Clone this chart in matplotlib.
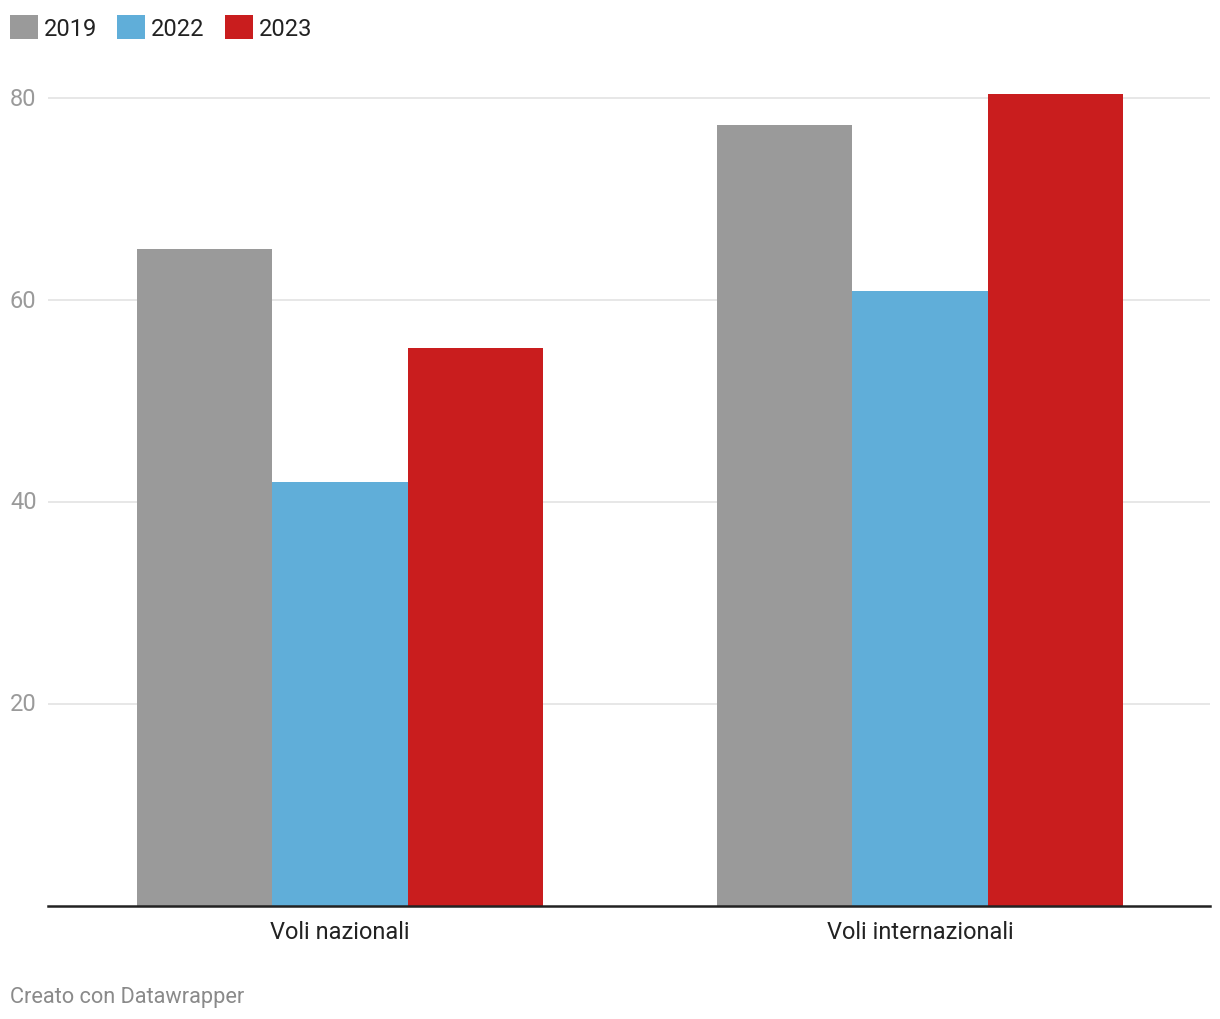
import matplotlib.pyplot as plt
import numpy as np
from matplotlib.patches import Patch

plt.rcParams["font.family"] = ["Roboto", "DejaVu Sans"]

categories = ["Voli nazionali", "Voli internazionali"]
years = ["2019", "2022", "2023"]
values_2019 = [65.1, 77.4]
values_2022 = [42.0, 60.9]
values_2023 = [55.3, 80.4]
yticks = [20, 40, 60, 80]

colors = ["#9a9a9a", "#60aed9", "#c91d1e"]

fig = plt.figure(figsize=(12.2, 10.2), dpi=100)
# axes: x 48..1210 px, y 906 (zero) .. 86 px
ax = fig.add_axes([48 / 1220, 1 - 906.5 / 1020, (1210 - 48) / 1220, (906.5 - 86.5) / 1020])

x = np.arange(len(categories))
w = 0.2336
for i, (vals, c) in enumerate(zip([values_2019, values_2022, values_2023], colors)):
    ax.bar(x + (i - 1) * w, vals, width=w, color=c, linewidth=0, zorder=2)

ax.set_xlim(-0.503, 1.5)
ax.set_ylim(0, 820 / 10.09)

ax.set_yticks(yticks)
ax.set_yticklabels([str(t) for t in yticks], fontsize=17, color="#9a9a9a",
                   ha="left", va="center")
ax.tick_params(axis="y", length=0, pad=27.4)
ax.yaxis.grid(True, color="#e3e3e3", linewidth=1.2, zorder=0)

ax.set_xticks(x)
ax.set_xticklabels(categories, fontsize=17, color="#222222")
ax.tick_params(axis="x", length=0, pad=10.5)

for s in ["top", "right", "left"]:
    ax.spines[s].set_visible(False)
ax.spines["bottom"].set_color("#222222")
ax.spines["bottom"].set_linewidth(1.8)
ax.spines["bottom"].set_zorder(3)

handles = [Patch(facecolor=c, edgecolor="none") for c in colors]
fig.legend(handles, years, loc="upper left", bbox_to_anchor=(10 / 1220, 1 - 16 / 1020),
           ncol=3, frameon=False, fontsize=17, handlelength=1.19, handleheight=1.19,
           handletextpad=0.25, columnspacing=0.85, borderaxespad=0, borderpad=0,
           labelcolor="#222222")

fig.text(10 / 1220, 1 - 998 / 1020, "Creato con Datawrapper", fontsize=15.7,
         color="#8a8a8a", va="center", ha="left")

fig.savefig("out.png", dpi=100, facecolor="white")
